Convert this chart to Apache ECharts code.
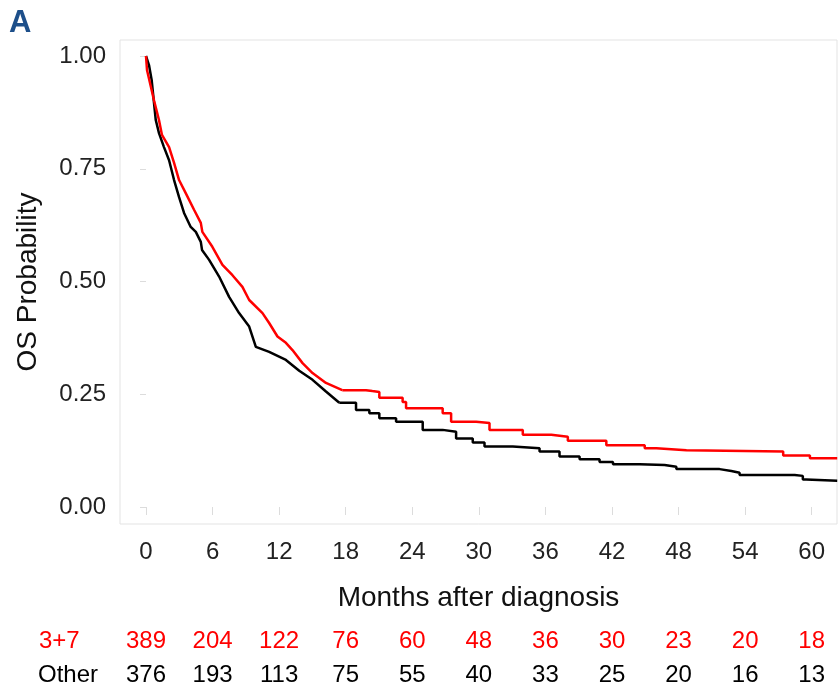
<!DOCTYPE html>
<html>
<head>
<meta charset="utf-8">
<script src="https://cdn.jsdelivr.net/npm/echarts@6/dist/echarts.min.js"></script>
<style>
html,body{margin:0;padding:0;background:#fff;}
#chart{width:838px;height:695px;}
</style>
</head>
<body>
<div id="chart"></div>
<script>
// ---- Data ----
const monthTicks = [0, 6, 12, 18, 24, 30, 36, 42, 48, 54, 60];
const probTicks = [0, 0.25, 0.5, 0.75, 1];
const riskLabel37 = '3+7';
const riskLabelOther = 'Other';
const risk37 = [389, 204, 122, 76, 60, 48, 36, 30, 23, 20, 18];
const riskOther = [376, 193, 113, 75, 55, 40, 33, 25, 20, 16, 13];

// 3+7 curve: dense early part (jagged), then visible steps
const t37Early = [0, 0.09, 0.72, 1.17, 1.44, 2.08, 2.53, 2.98, 3.58, 4.33, 4.94, 5.08, 5.98, 6.89, 7.79, 8.69, 9.30, 10.50, 11.10, 11.85, 12.61, 13.20, 14.11, 15.01, 16.22, 17.69];
const s37Early = [1.000, 0.969, 0.902, 0.858, 0.825, 0.798, 0.763, 0.725, 0.696, 0.659, 0.630, 0.610, 0.577, 0.537, 0.514, 0.488, 0.459, 0.430, 0.408, 0.378, 0.364, 0.348, 0.319, 0.297, 0.275, 0.259];
const t37Late = [17.69, 19.83, 20.40, 21.03, 23.13, 23.44, 26.74, 27.50, 29.76, 30.96, 33.96, 36.53, 38.02, 41.49, 44.95, 46.00, 48.71, 57.43, 59.84, 62.3];
const s37Late = [0.259, 0.257, 0.255, 0.242, 0.233, 0.219, 0.208, 0.189, 0.186, 0.171, 0.160, 0.156, 0.147, 0.137, 0.130, 0.126, 0.123, 0.114, 0.108, 0.108];

// Other curve
const tOthEarly = [0, 0.27, 0.51, 0.88, 1.17, 1.62, 2.08, 2.53, 2.98, 3.43, 4.03, 4.49, 4.94, 5.05, 5.69, 6.59, 7.49, 8.39, 9.30, 9.90, 11.10, 12.61, 13.81, 15.01, 16.22, 17.42];
const sOthEarly = [1.000, 0.980, 0.947, 0.858, 0.829, 0.798, 0.769, 0.725, 0.687, 0.652, 0.621, 0.610, 0.588, 0.570, 0.548, 0.511, 0.466, 0.430, 0.400, 0.355, 0.344, 0.326, 0.302, 0.282, 0.256, 0.231];
const tOthLate = [17.42, 18.93, 20.13, 21.03, 22.54, 24.94, 26.74, 27.95, 29.45, 30.51, 33.06, 35.47, 37.27, 39.08, 40.88, 42.09, 44.49, 46.74, 47.80, 51.70, 52.76, 53.50, 58.47, 59.20, 59.50, 62.3];
const sOthLate = [0.231, 0.215, 0.208, 0.197, 0.189, 0.171, 0.167, 0.152, 0.143, 0.134, 0.130, 0.123, 0.112, 0.106, 0.100, 0.095, 0.093, 0.089, 0.084, 0.080, 0.076, 0.071, 0.069, 0.061, 0.058, 0.058];

const zip = (a, b) => a.map((v, i) => [v, b[i]]);

const RED = '#ff0000';
const BLACK = '#000000';
const FONT = "'Liberation Sans', Arial, Helvetica, sans-serif";
const GRID = {left: 120, top: 40, width: 717, height: 484};
const XMIN = -2.343, XMAX = 62.28;
const YMIN = -0.0377, YMAX = 1.0355;

function riskAxis(values, color, offset) {
  return {
    type: 'value', gridIndex: 0, position: 'bottom', offset: offset,
    min: XMIN, max: XMAX,
    axisLine: {show: false}, axisTick: {show: false}, splitLine: {show: false},
    axisLabel: {
      customValues: monthTicks, margin: 0, fontSize: 24, fontFamily: FONT, color: color,
      formatter: v => { const i = monthTicks.indexOf(Math.round(v)); return i >= 0 ? String(values[i]) : ''; }
    }
  };
}

const chart = echarts.init(document.getElementById('chart'), null, {renderer: 'canvas'});
chart.setOption({
  animation: false,
  backgroundColor: '#ffffff',
  grid: Object.assign({show: true, borderColor: '#e3e3e3', borderWidth: 1, backgroundColor: 'transparent'}, GRID),
  xAxis: [
    {
      type: 'value', min: XMIN, max: XMAX,
      name: 'Months after diagnosis', nameLocation: 'middle', nameGap: 60,
      nameTextStyle: {fontSize: 28, fontFamily: FONT, color: '#111'},
      axisLine: {show: false}, splitLine: {show: false},
      axisTick: {show: true, customValues: monthTicks, length: 8, lineStyle: {color: '#dcdcdc', width: 1}},
      axisLabel: {customValues: monthTicks, margin: 16, fontSize: 24, fontFamily: FONT, color: '#222'}
    },
    riskAxis(risk37, RED, 105),
    riskAxis(riskOther, BLACK, 139)
  ],
  yAxis: {
    type: 'value', min: YMIN, max: YMAX,
    name: 'OS Probability', nameLocation: 'middle', nameGap: 78,
    nameTextStyle: {fontSize: 28, fontFamily: FONT, color: '#111'},
    axisLine: {show: false}, splitLine: {show: false},
    axisTick: {show: true, customValues: probTicks, length: 6, lineStyle: {color: '#dcdcdc', width: 1}},
    axisLabel: {customValues: probTicks, margin: 14, fontSize: 24, fontFamily: FONT, color: '#222',
      formatter: v => v.toFixed(2)}
  },
  graphic: [
    {type: 'text', left: 9, top: 8, style: {text: 'A', font: "bold 31px " + FONT, fill: '#1d4f8a'}},
    {type: 'text', left: 39, top: 629, style: {text: riskLabel37, font: "24px " + FONT, fill: RED}},
    {type: 'text', left: 38, top: 663, style: {text: riskLabelOther, font: "24px " + FONT, fill: BLACK}}
  ],
  series: [
    {type: 'line', name: 'Other', data: zip(tOthEarly, sOthEarly), showSymbol: false, lineStyle: {color: BLACK, width: 2.5}, z: 2},
    {type: 'line', name: 'Other', data: zip(tOthLate, sOthLate), step: 'end', showSymbol: false, lineStyle: {color: BLACK, width: 2.5}, z: 2},
    {type: 'line', name: '3+7', data: zip(t37Early, s37Early), showSymbol: false, lineStyle: {color: RED, width: 2.5}, z: 3},
    {type: 'line', name: '3+7', data: zip(t37Late, s37Late), step: 'end', showSymbol: false, lineStyle: {color: RED, width: 2.5}, z: 3}
  ]
});
</script>
</body>
</html>
